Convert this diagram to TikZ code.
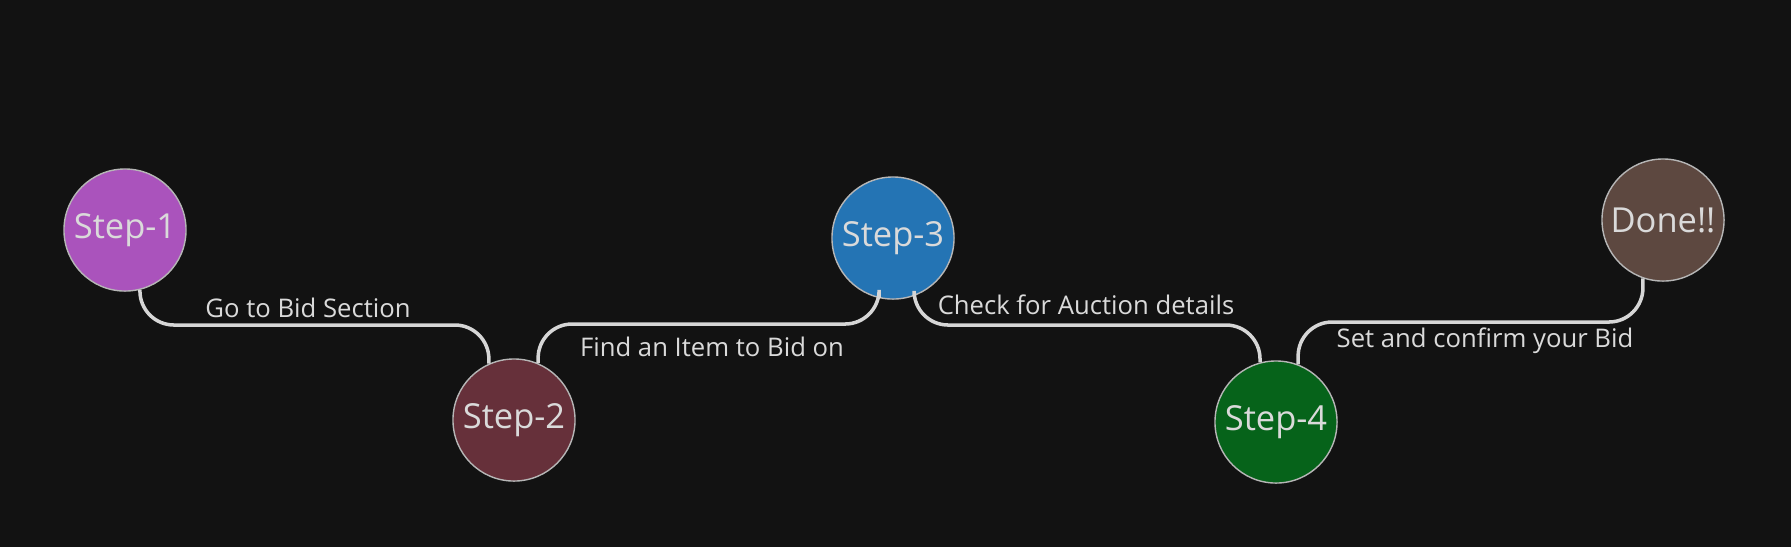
\documentclass[tikz,border=0pt]{standalone}
\usepackage{fontspec}
\setmainfont{Open Sans}
\definecolor{bidBack}{RGB}{18,18,18}
\definecolor{bidText}{RGB}{218,218,218}
\definecolor{bidLine}{RGB}{214,214,214}
\definecolor{bidPurple}{RGB}{170,83,188}
\definecolor{bidMaroon}{RGB}{102,48,58}
\definecolor{bidBlue}{RGB}{36,116,180}
\definecolor{bidGreen}{RGB}{6,99,26}
\definecolor{bidBrown}{RGB}{93,72,64}
\usetikzlibrary{positioning,calc}

\begin{document}
\begin{tikzpicture}[
  x=0.01cm, y=-0.01cm,
  stage/.style={circle, draw=bidLine!85!black, line width=0.4pt, minimum size=1.22cm,
                inner sep=0pt, text=bidText, font=\fontsize{9.8}{12}\selectfont},
  link/.style={draw=bidLine, line width=1pt, rounded corners=0.34cm},
  lbl/.style={text=bidText, inner sep=0pt, font=\fontsize{7.3}{9}\selectfont}
]
  \fill[bidBack] (0,0) rectangle (1791,547);
  \useasboundingbox (0,0) rectangle (1791,547);

  % stages
  \node[stage, fill=bidPurple] (s1) at (125,230) {Step-1};
  \node[stage, fill=bidMaroon] (s2) at (514,420) {Step-2};
  \node[stage, fill=bidBlue] (s3) at (893,238) {Step-3};
  \node[stage, fill=bidGreen] (s4) at (1276,422) {Step-4};
  \node[stage, fill=bidBrown] (done) at (1663,220) {Done!!};

  % connectors
  \draw[link] (s1.-76) |- (300,325) -| (s2.114);
  \draw[link] (s2.67) |- (700,324) -| (s3.-103);
  \draw[link] (s3.-70) |- (1080,325) -| (s4.105);
  \draw[link] (s4.69) |- (1470,322) -| (done.-109);

  % labels
  \node[lbl] (l12) at (308,308) {Go to Bid Section};
  \node[lbl] (l23) at (712,347) {Find an Item to Bid on};
  \node[lbl] (l34) at (1086,305) {Check for Auction details};
  \node[lbl] (l4d) at (1485,341) {Set and confirm your Bid};
\end{tikzpicture}
\end{document}
